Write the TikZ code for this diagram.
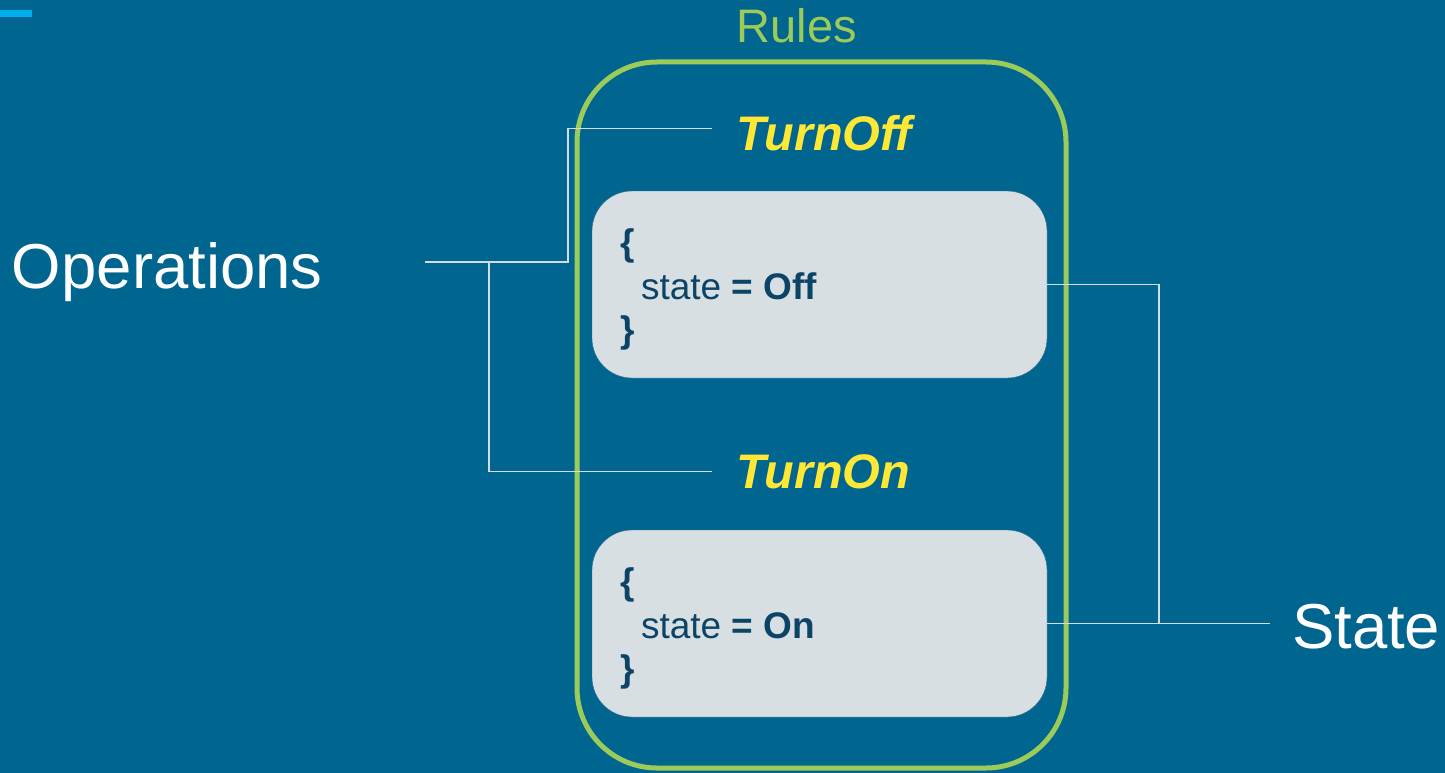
\documentclass[tikz,border=0pt]{standalone}
\usepackage{fontspec}
\setmainfont{Liberation Sans}
\usetikzlibrary{positioning}

\definecolor{slide}{HTML}{00668F}
\definecolor{accent}{HTML}{00AEEF}
\definecolor{rulesgreen}{HTML}{9CCB5A}
\definecolor{opyellow}{HTML}{FFE835}
\definecolor{boxfill}{HTML}{D8DFE3}
\definecolor{boxedge}{HTML}{2C6A8A}
\definecolor{codeblue}{HTML}{0C4467}
\definecolor{linegray}{HTML}{D3DCE2}

\begin{document}
\begin{tikzpicture}[x=1pt,y=-1pt]
\tikzstyle{every node}=[inner sep=0pt, outer sep=0pt]
\tikzstyle{bigword}=[text=white, font=\fontsize{63.5}{70}\selectfont]
\tikzstyle{opname}=[text=opyellow, font=\fontsize{48.5}{52}\selectfont\bfseries\itshape]
\tikzstyle{codebox}=[draw=boxedge, fill=boxfill, rounded corners=40pt, minimum width=455pt, minimum height=187pt]
\tikzstyle{code}=[text=codeblue, align=left, font=\fontsize{37}{43.5}\selectfont]
\tikzstyle{link}=[draw=linegray, line width=1.5pt]

\useasboundingbox (0,0) rectangle (1445,773);
\fill[slide] (0,0) rectangle (1445,773);
\fill[accent] (0,10) rectangle (32,17);

% rules frame
\draw[rulesgreen, line width=5pt, rounded corners=80pt] (577,62) rectangle (1066,768);
\node[anchor=base, text=rulesgreen, font=\fontsize{47}{52}\selectfont] (rules) at (797,43) {Rules};

\node[opname, anchor=base west] (turnoff) at (736,150) {TurnOff};
\node[codebox] (offbox) at (819.5,284.5) {};
\node[code, anchor=west] (offcode) at ([shift={(28,5)}]offbox.west)
  {\textbf{\{}\\\hspace*{21pt}state \textbf{= Off}\\\textbf{\}}};

\node[opname, anchor=base west] (turnon) at (736,488) {TurnOn};
\node[codebox, below=152pt of offbox] (onbox) {};
\node[code, anchor=west] (oncode) at ([shift={(28,5)}]onbox.west)
  {\textbf{\{}\\\hspace*{21pt}state \textbf{= On}\\\textbf{\}}};

\node[bigword, anchor=base west] (ops) at (12,288) {Operations};
\node[bigword, anchor=base west] (state) at (1292,648) {State};

% connectors
\coordinate (opsfoot) at (425,262);
\draw[link] (opsfoot) -- ++(143,0) |- ([shift={(-24,-4)}]turnoff.west);
\draw[link] (opsfoot) ++(64,0) |- ([xshift=-24pt]turnon.west);
\draw[link] (offbox.east) -- ++(112,0) |- (onbox.east);
\draw[link] (onbox.east) -- ([xshift=-22pt]state.west |- onbox.east);
\end{tikzpicture}
\end{document}
